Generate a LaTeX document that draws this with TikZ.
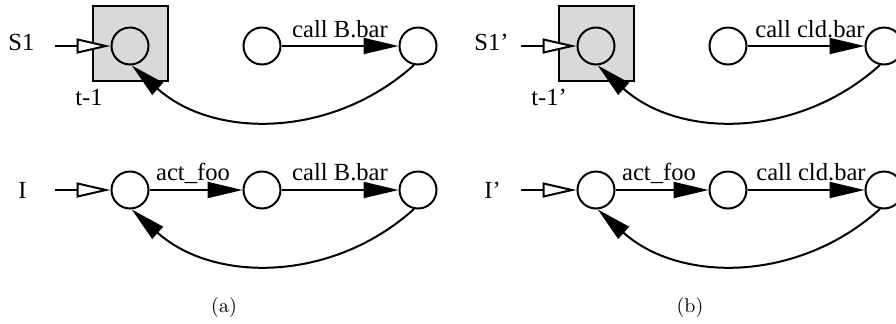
\documentclass[tikz,border=0pt]{standalone}
\usepackage{fontspec}
\newfontfamily\tms{Liberation Serif}
\usetikzlibrary{arrows.meta}
\definecolor{boxgray}{gray}{0.85}
\begin{document}
\begin{tikzpicture}[x=0.5pt,y=0.5pt,
  st/.style={circle, draw, line width=1pt, minimum size=18.5pt, inner sep=0pt},
  lbl/.style={font=\tms\fontsize{12.3}{14}\selectfont, inner sep=0pt},
  fa/.style={line width=1pt, -{Triangle[length=17.5pt,width=8pt]}},
  oa/.style={line width=1pt, -{Triangle[open,length=17pt,width=7.5pt,fill=white]}},
  sqbox/.style={draw, line width=1pt, fill=boxgray, minimum width=37.5pt, minimum height=37.5pt, inner sep=0pt}]
\useasboundingbox (0,0) rectangle (896,-323);
% ---------- panel (a) ----------
\node[sqbox] (aB) at (130,-43) {};
\node[st] (a1) at (130,-46) {};
\node[st] (a2) at (262,-46) {};
\node[st] (a3) at (418,-46) {};
\node[lbl, anchor=base west] (aS) at (8,-50) {S1};
\node[lbl, anchor=base west] (aT) at (75,-105) {t-1};
\coordinate (aSs) at (55,-46);
\draw[oa] (aSs) -- (a1);
\draw[fa] (a2) -- (a3);
\node[lbl, anchor=base] (aL1) at (340,-37) {call B.bar};
\draw[fa] (a3.258) to[out=222,in=318] (a1.275);
\node[st] (a4) at (130,-190) {};
\node[st] (a5) at (262,-190) {};
\node[st] (a6) at (418,-190) {};
\node[lbl, anchor=base west] (aI) at (18,-198) {I};
\coordinate (aIs) at (55,-190);
\draw[oa] (aIs) -- (a4);
\draw[fa] (a4) -- (a5);
\draw[fa] (a5) -- (a6);
\node[lbl, anchor=base] (aL2) at (193,-180) {act\_foo};
\node[lbl, anchor=base] (aL3) at (340,-180) {call B.bar};
\draw[fa] (a6.258) to[out=222,in=318] (a4.275);
\node[anchor=base] (capa) at (224,-312) {(a)};
% ---------- panel (b) ----------
\node[sqbox] (bB) at (596,-43) {};
\node[st] (b1) at (596,-46) {};
\node[st] (b2) at (728,-46) {};
\node[st] (b3) at (884,-46) {};
\node[lbl, anchor=base west] (bS) at (474,-50) {S1’};
\node[lbl, anchor=base west] (bT) at (531,-105) {t-1’};
\coordinate (bSs) at (521,-46);
\draw[oa] (bSs) -- (b1);
\draw[fa] (b2) -- (b3);
\node[lbl, anchor=base] (bL1) at (810,-37) {call cld.bar};
\draw[fa] (b3.258) to[out=222,in=318] (b1.275);
\node[st] (b4) at (596,-190) {};
\node[st] (b5) at (728,-190) {};
\node[st] (b6) at (884,-190) {};
\node[lbl, anchor=base west] (bI) at (484,-198) {I’};
\coordinate (bIs) at (521,-190);
\draw[oa] (bIs) -- (b4);
\draw[fa] (b4) -- (b5);
\draw[fa] (b5) -- (b6);
\node[lbl, anchor=base] (bL2) at (659,-180) {act\_foo};
\node[lbl, anchor=base] (bL3) at (811,-180) {call cld.bar};
\draw[fa] (b6.258) to[out=222,in=318] (b4.275);
\node[anchor=base] (capb) at (690,-312) {(b)};
\end{tikzpicture}
\end{document}
